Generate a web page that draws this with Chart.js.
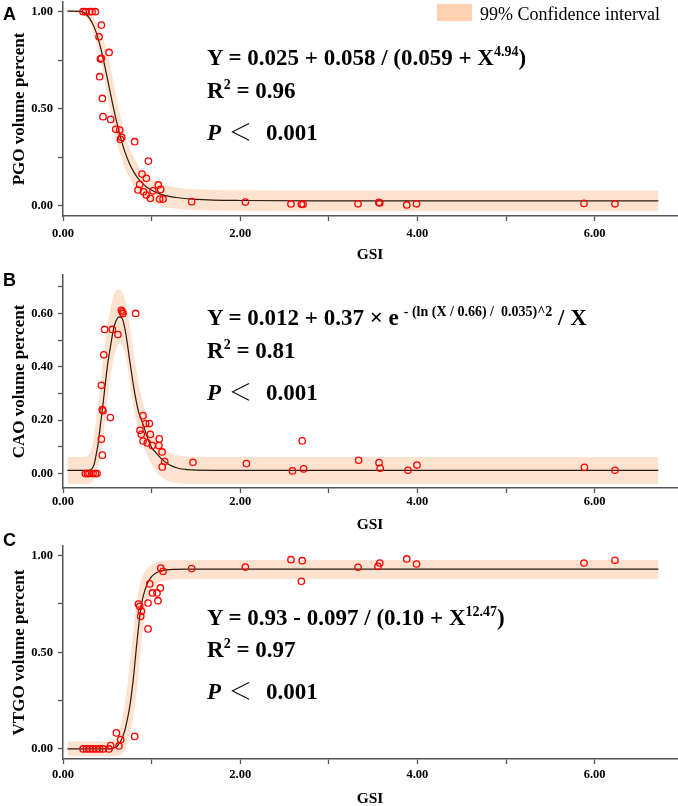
<!DOCTYPE html>
<html><head><meta charset="utf-8">
<script src="https://cdn.jsdelivr.net/npm/chart.js@4.4.1/dist/chart.umd.min.js"></script>
<style>
html,body{margin:0;padding:0;width:678px;height:806px;overflow:hidden;background:#fff;}
canvas{position:absolute;left:0;}
.eq{position:absolute;left:207px;font-family:'Liberation Serif','Times New Roman',serif;font-weight:bold;font-size:23px;line-height:23px;color:#000;white-space:nowrap;}
.sup{font-size:14px;position:relative;top:-9px;}
.sup2{font-size:14px;position:relative;top:-9px;margin-left:5px;}
.lt{font-family:'Noto Sans CJK SC';font-weight:300;margin:0 14px 0 8px;}
.let{position:absolute;left:3px;font-family:'Liberation Sans',Arial,sans-serif;font-weight:bold;font-size:18px;line-height:18px;color:#000;}
.lgbox{position:absolute;left:437px;top:4px;width:35px;height:17px;background:#fcd0b0;}
.lgtxt{position:absolute;left:480px;top:5px;font-family:'Liberation Serif','Times New Roman',serif;font-size:18px;line-height:18px;color:#000;white-space:nowrap;}
</style></head>
<body>
<canvas id="cA" width="678" height="268" style="top:0px;width:678px;height:268px"></canvas>
<canvas id="cB" width="678" height="272" style="top:268px;width:678px;height:272px"></canvas>
<canvas id="cC" width="678" height="270" style="top:540px;width:678px;height:270px"></canvas>

<div class="let" style="top:5px">A</div>
<div class="let" style="top:271px">B</div>
<div class="let" style="top:531px">C</div>

<div class="lgbox"></div><div class="lgtxt">99% Confidence interval</div>

<div class="eq" style="top:46px">Y = 0.025 + 0.058 / (0.059 + X<span class="sup">4.94</span>)</div>
<div class="eq" style="top:79px">R<span class="sup">2</span> = 0.96</div>
<div class="eq" style="top:119px"><i>P</i><span class="lt">＜</span>0.001</div>

<div class="eq" style="top:306px">Y = 0.012 + 0.37 × e<span class="sup2">- (ln (X / 0.66) /&nbsp; 0.035)^2</span> / X</div>
<div class="eq" style="top:339px">R<span class="sup">2</span> = 0.81</div>
<div class="eq" style="top:379px"><i>P</i><span class="lt">＜</span>0.001</div>

<div class="eq" style="top:606px">Y = 0.93 - 0.097 / (0.10 + X<span class="sup">12.47</span>)</div>
<div class="eq" style="top:638px">R<span class="sup">2</span> = 0.97</div>
<div class="eq" style="top:678px"><i>P</i><span class="lt">＜</span>0.001</div>

<script>
// ---------- tick values ----------
const xTicks = [0,1,2,3,4,5,6];
const yTicksA = [0,0.25,0.5,0.75,1];
const yLabelsA = [0,0.5,1];
const yTicksB = [0,0.1,0.2,0.3,0.4,0.5,0.6,0.7];
const yLabelsB = [0,0.2,0.4,0.6];
const yTicksC = [0,0.25,0.5,0.75,1];
const yLabelsC = [0,0.5,1];

// ---------- Panel A: PGO ----------
const gsiA = [0.226,0.256,0.301,0.328,0.365,0.433,0.407,0.52,0.422,0.433,0.414,0.444,0.452,0.538,0.595,0.64,0.648,0.662,0.809,0.964,0.892,0.941,0.866,0.847,0.910,0.94,0.986,1.016,1.076,1.102,1.091,1.129,1.452,2.058,2.573,2.69,2.709,3.33,3.565,3.575,3.88,3.99,5.88,6.23];
const pgo  = [1,1,1,1,1,0.931,0.871,0.79,0.756,0.76,0.665,0.553,0.459,0.445,0.394,0.39,0.342,0.352,0.33,0.23,0.163,0.141,0.11,0.081,0.072,0.055,0.038,0.077,0.107,0.084,0.034,0.034,0.021,0.019,0.009,0.007,0.007,0.01,0.017,0.014,0.004,0.01,0.012,0.01];
const fitXA = [0.05,0.2,0.25,0.3,0.35,0.4,0.45,0.5,0.55,0.6,0.65,0.7,0.75,0.8,0.85,0.9,0.95,1.0,1.1,1.2,1.3,1.5,2,3,6.72];
const fitYA = [1.003,1.002,0.991,0.966,0.923,0.856,0.765,0.658,0.547,0.442,0.351,0.276,0.218,0.173,0.139,0.114,0.094,0.080,0.060,0.048,0.041,0.033,0.027,0.025,0.025];
const ciHiA = [1.01,1.01,1.005,0.99,0.965,0.925,0.865,0.79,0.68,0.565,0.46,0.37,0.3,0.25,0.205,0.175,0.15,0.135,0.113,0.1,0.093,0.085,0.08,0.079,0.079];
const ciLoA = [0.998,0.993,0.975,0.94,0.88,0.8,0.7,0.57,0.445,0.34,0.26,0.19,0.145,0.1,0.07,0.05,0.032,0.02,0.0,-0.01,-0.017,-0.023,-0.027,-0.029,-0.029];

// ---------- Panel B: CAO ----------
const gsiB = [0.252,0.275,0.294,0.339,0.365,0.384,0.433,0.444,0.444,0.452,0.433,0.46,0.47,0.557,0.62,0.535,0.659,0.67,0.677,0.82,0.903,0.869,0.884,0.933,0.975,0.986,0.903,0.952,1.008,1.087,1.082,1.118,1.148,1.12,1.467,2.07,2.59,2.70,2.716,3.337,3.567,3.58,3.894,3.995,5.885,6.23];
const cao  = [0,0,0,0,0,0,0.129,0.069,0.24,0.235,0.331,0.445,0.54,0.54,0.521,0.21,0.612,0.606,0.6,0.6,0.217,0.162,0.147,0.1875,0.1875,0.147,0.122,0.115,0.105,0.13,0.105,0.081,0.045,0.025,0.0425,0.0375,0.01,0.1225,0.0175,0.05,0.041,0.02,0.0125,0.032,0.0236,0.0125];
const fitXB = [0.05,0.2,0.25,0.3,0.325,0.35,0.375,0.4,0.425,0.45,0.475,0.5,0.525,0.55,0.575,0.6,0.625,0.65,0.675,0.7,0.725,0.75,0.775,0.8,0.85,0.9,0.95,1.0,1.05,1.1,1.2,1.3,1.4,1.5,2,6.72];
const fitYB = [0.012,0.012,0.012,0.013,0.018,0.033,0.072,0.12,0.19,0.255,0.33,0.40,0.455,0.505,0.55,0.573,0.586,0.586,0.576,0.54,0.49,0.43,0.375,0.32,0.235,0.187,0.137,0.098,0.078,0.059,0.033,0.02,0.015,0.013,0.012,0.012];
const ciHiB = [0.062,0.062,0.063,0.075,0.095,0.14,0.2,0.27,0.34,0.42,0.49,0.55,0.60,0.64,0.67,0.685,0.69,0.688,0.675,0.65,0.61,0.56,0.50,0.45,0.34,0.27,0.21,0.165,0.135,0.11,0.08,0.068,0.064,0.062,0.062,0.062];
const ciLoB = [-0.038,-0.038,-0.038,-0.037,-0.033,-0.018,0.006,0.035,0.075,0.13,0.2,0.275,0.34,0.395,0.435,0.465,0.485,0.487,0.475,0.45,0.41,0.35,0.29,0.24,0.165,0.11,0.07,0.035,0.01,-0.01,-0.03,-0.036,-0.038,-0.038,-0.038,-0.038];

// ---------- Panel C: VTGO ----------
const gsiC = [0.226,0.264,0.301,0.339,0.377,0.414,0.452,0.519,0.538,0.603,0.632,0.651,0.809,0.851,0.866,0.885,0.877,0.96,0.96,0.979,1.009,1.061,1.099,1.072,1.103,1.129,1.452,2.058,2.573,2.69,2.70,3.33,3.555,3.575,3.88,3.99,5.88,6.23];
const vtgo = [0,0,0,0,0,0,0,0,0.017,0.083,0.0155,0.048,0.065,0.75,0.738,0.712,0.686,0.755,0.621,0.854,0.807,0.807,0.833,0.767,0.936,0.919,0.933,0.941,0.979,0.867,0.974,0.94,0.945,0.962,0.983,0.957,0.962,0.976];
const fitXC = [0.05,0.5,0.55,0.6,0.625,0.65,0.675,0.7,0.725,0.75,0.775,0.8,0.825,0.85,0.875,0.9,0.95,1.0,1.05,1.1,1.2,1.4,6.72];
const fitYC = [0,0,0.002,0.01,0.022,0.04,0.065,0.1,0.15,0.21,0.29,0.39,0.51,0.62,0.715,0.78,0.855,0.892,0.91,0.92,0.928,0.93,0.93];
const ciHiC = [0.038,0.038,0.04,0.06,0.085,0.12,0.17,0.235,0.32,0.42,0.53,0.64,0.74,0.81,0.86,0.895,0.935,0.955,0.965,0.972,0.976,0.977,0.977];
const ciLoC = [-0.038,-0.038,-0.038,-0.037,-0.034,-0.03,-0.02,0.0,0.03,0.07,0.125,0.19,0.275,0.385,0.505,0.605,0.75,0.815,0.85,0.865,0.875,0.879,0.879];

function pts(xs, ys){ return xs.map((x,i)=>({x:x, y:ys[i]})); }

const AXIS = '#555';
const SERIF = "'Liberation Serif','Times New Roman',serif";

function build(id, o){
  return new Chart(document.getElementById(id), {
    type: 'line',
    data: { datasets: [
      { data: pts(o.sx, o.sy), showLine: false, pointRadius: 3.2, pointBorderWidth: 1.3,
        pointBorderColor: '#ff0000', pointBackgroundColor: 'rgba(0,0,0,0)', borderColor:'#ff0000' },
      { data: pts(o.fx, o.fy), showLine: true, borderColor: '#2a1a10', borderWidth: 1.2,
        pointRadius: 0, cubicInterpolationMode: 'monotone', fill: false },
      { data: pts(o.fx, o.hi), showLine: true, borderWidth: 0, borderColor: 'rgba(0,0,0,0)',
        pointRadius: 0, cubicInterpolationMode: 'monotone', fill: false },
      { data: pts(o.fx, o.lo), showLine: true, borderWidth: 0, borderColor: 'rgba(0,0,0,0)',
        pointRadius: 0, cubicInterpolationMode: 'monotone', fill: '-1', backgroundColor: '#fde3cf' }
    ]},
    options: {
      responsive: false, animation: false, events: [],
      layout: { autoPadding: false, padding: { top: o.padTop, right: 1, left: 0, bottom: 0 } },
      plugins: { legend: { display: false }, tooltip: { enabled: false } },
      scales: {
        x: {
          type: 'linear', min: 0, max: 6.93,
          afterBuildTicks: (ax) => { ax.ticks = xTicks.map(v => ({ value: v })); },
          afterFit: (ax) => { ax.height = o.xh; ax.paddingLeft = 0; ax.paddingRight = 0; },
          ticks: { autoSkip: false, maxRotation: 0, padding: o.xtp, color: '#000',
            font: { family: SERIF, weight: 'bold', size: 12.5 },
            callback: (v) => (v % 2 === 0 ? v.toFixed(2) : '') },
          grid: { display: true, drawOnChartArea: false, drawTicks: true, tickLength: 5, tickColor: AXIS, tickWidth: 1.3 },
          border: { display: true, color: AXIS, width: 1.5 },
          title: { display: true, text: 'GSI', color: '#000',
            font: { family: SERIF, weight: 'bold', size: 15.5 }, padding: { top: 0, bottom: o.xtb } }
        },
        y: {
          type: 'linear', min: o.ymin, max: o.ymax,
          afterBuildTicks: (ax) => { ax.ticks = o.yt.map(v => ({ value: v })); },
          afterFit: (ax) => { ax.width = 63; ax.paddingTop = 0; ax.paddingBottom = 0; },
          ticks: { padding: 5, color: '#000', font: { family: SERIF, weight: 'bold', size: 12.5 },
            callback: (v) => (o.yl.includes(v) ? v.toFixed(2) : '') },
          grid: { display: true, drawOnChartArea: false, drawTicks: true, tickLength: 5, tickColor: AXIS, tickWidth: 1.3 },
          border: { display: true, color: AXIS, width: 1.5 },
          title: { display: true, text: o.ytitle, color: '#000',
            font: { family: SERIF, weight: 'bold', size: 17 }, padding: { top: 9, bottom: 0 } }
        }
      }
    }
  });
}

build('cA', { sx: gsiA, sy: pgo, fx: fitXA, fy: fitYA, hi: ciHiA, lo: ciLoA,
  padTop: 2, xh: 52, xtp: 5.5, xtb: 3.7, ymin: -0.053, ymax: 1.05, yt: yTicksA, yl: yLabelsA, ytitle: 'PGO volume percent' });
build('cB', { sx: gsiB, sy: cao, fx: fitXB, fy: fitYB, hi: ciHiB, lo: ciLoB,
  padTop: 7, xh: 52, xtp: 1.5, xtb: 5.7, ymin: -0.054, ymax: 0.744, yt: yTicksB, yl: yLabelsB, ytitle: 'CAO volume percent' });
build('cC', { sx: gsiC, sy: vtgo, fx: fitXC, fy: fitYC, hi: ciHiC, lo: ciLoC,
  padTop: 6, xh: 51, xtp: 3.5, xtb: 1.7, ymin: -0.052, ymax: 1.05, yt: yTicksC, yl: yLabelsC, ytitle: 'VTGO volume percent' });
</script>
</body></html>
